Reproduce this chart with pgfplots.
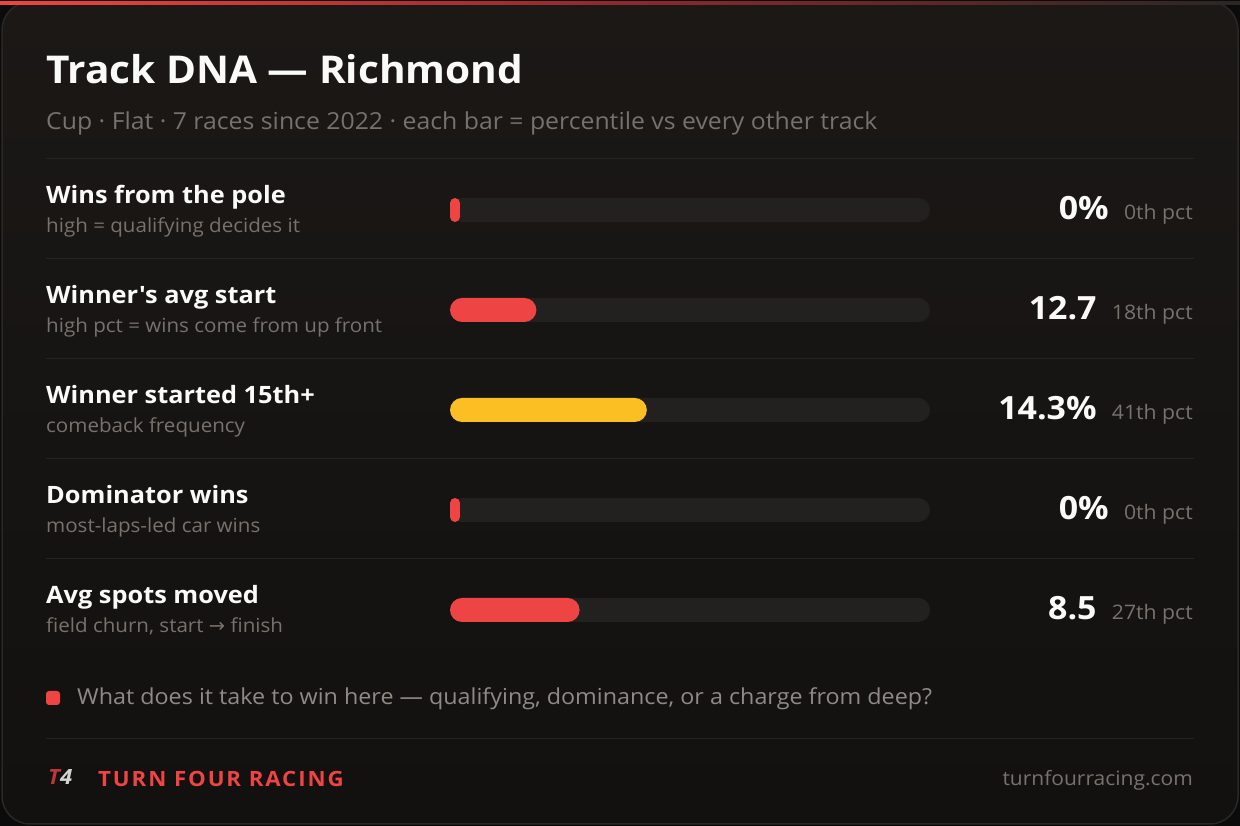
\documentclass[border=0pt]{standalone}
\usepackage{fontspec}
\setmainfont{Open Sans}[FakeStretch=1.06,Ligatures=TeXOff]
\newfontfamily\spaced{Open Sans}[FakeStretch=1.06,LetterSpace=9]
\newfontfamily\dejavu{DejaVu Sans}
\usepackage{pgfplots}
\pgfplotsset{compat=1.18}

\definecolor{bgout}{HTML}{0B0B0B}
\definecolor{cardtop}{HTML}{1B1816}
\definecolor{cardbot}{HTML}{121110}
\definecolor{cardedge}{HTML}{2A2725}
\definecolor{sep}{HTML}{262321}
\definecolor{trackc}{HTML}{232120}
\definecolor{redc}{HTML}{EF4444}
\definecolor{amberc}{HTML}{FBBF24}
\definecolor{txt}{HTML}{FAFAF9}
\definecolor{muted}{HTML}{78716C}
\definecolor{note}{HTML}{8F8A85}

\begin{document}
\begin{tikzpicture}[x=1pt,y=1pt]
  % page and card (y measured up from the bottom, page is 1240 x 826)
  \fill[bgout] (0,0) rectangle (1240,826);
  \shade[top color=cardtop,bottom color=cardbot,rounded corners=28pt] (2,2) rectangle (1238,824);
  \draw[cardedge,line width=1.5pt,rounded corners=28pt] (2,2) rectangle (1238,824);
  \shade[left color=redc,right color=cardedge,middle color=redc!60!black] (0,821.5) rectangle (1240,824.5);
  \path[use as bounding box] (0,0) rectangle (1240,826);

  % header
  \node[anchor=base west,inner sep=0,text=txt,font=\fontsize{38.3}{46}\selectfont\bfseries] at (46,742) {Track DNA — Richmond};
  \node[anchor=base west,inner sep=0,text=muted,font=\fontsize{23.4}{28}\selectfont] at (46,696) {Cup · Flat · 7 races since 2022 · each bar = percentile vs every other track};

  % separators
  \foreach \yy in {667,567,467,367,267,87} \draw[sep,line width=1pt] (46,\yy) -- (1194,\yy);

  % row labels and values
  \foreach \t/\s/\v/\p [count=\i from 0] in {
      {Wins from the pole}/{high = qualifying decides it}/{0\%}/{0th pct},
      {Winner's avg start}/{high pct = wins come from up front}/{12.7}/{18th pct},
      {Winner started 15th+}/{comeback frequency}/{14.3\%}/{41th pct},
      {Dominator wins}/{most-laps-led car wins}/{0\%}/{0th pct},
      {Avg spots moved}/{field churn, start {\dejavu →} finish}/{8.5}/{27th pct}} {
    \pgfmathsetmacro\cy{616-100*\i}
    \node[anchor=base west,inner sep=0,text=txt,font=\fontsize{23.9}{28}\selectfont\bfseries] at (46,\cy+6) {\t};
    \node[anchor=base west,inner sep=0,text=muted,font=\fontsize{19.4}{23}\selectfont] at (46,\cy-23) {\s};
    \node[anchor=base east,inner sep=0,text=muted,font=\fontsize{20}{24}\selectfont] (pct) at (1193,\cy-10) {\p};
    \node[anchor=base east,inner sep=0,text=txt,font=\fontsize{32}{36}\selectfont\bfseries] at ([xshift=-15pt]pct.base west) {\v};
  }

  % bars: percentile vs every other track (y = 4 is the top row)
  \begin{axis}[at={(450pt,216pt)},anchor=south west,
      width=480pt,height=400pt,scale only axis,
      xmin=0,xmax=100,ymin=0,ymax=4,
      hide axis,clip=false]
    \addplot[xbar,bar shift=0pt,bar width=24pt,fill=trackc,draw=none,rounded corners=12pt]
      coordinates {(100,4) (100,3) (100,2) (100,1) (100,0)};
    % 0th pct rows are drawn with the minimum visible stub
    \addplot[xbar,bar shift=0pt,bar width=24pt,fill=redc,draw=none,rounded corners=5pt]
      coordinates {(2.08,4) (2.08,1)};
    \addplot[xbar,bar shift=0pt,bar width=24pt,fill=redc,draw=none,rounded corners=12pt]
      coordinates {(18,3) (27,0)};
    \addplot[xbar,bar shift=0pt,bar width=24pt,fill=amberc,draw=none,rounded corners=12pt]
      coordinates {(41,2)};
  \end{axis}

  % footnote
  \fill[redc,rounded corners=3pt] (46,121) rectangle (60,135);
  \node[anchor=base west,inner sep=0,text=note,font=\fontsize{22}{26}\selectfont] at (77,121) {What does it take to win here — qualifying, dominance, or a charge from deep?};

  % footer
  \node[anchor=base west,inner sep=0,font=\fontsize{21}{24}\selectfont\bfseries\itshape] at (48,41) {\textcolor{redc!80!black}{T}\textcolor{txt!85!black}{4}};
  \node[anchor=base west,inner sep=0,text=redc,font=\fontsize{21}{25}\spaced\bfseries] at (98,39) {TURN FOUR RACING};
  \node[anchor=base east,inner sep=0,text=muted,font=\fontsize{19.8}{24}\selectfont] at (1193,40) {turnfourracing.com};
\end{tikzpicture}
\end{document}
